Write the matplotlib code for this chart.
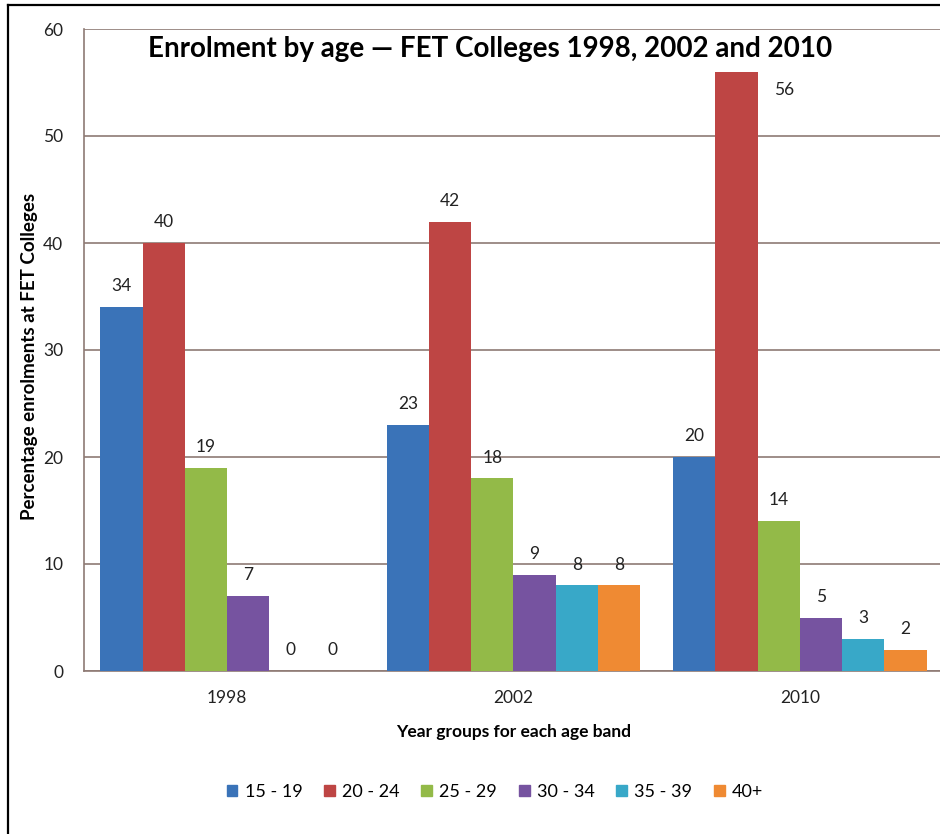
import numpy as np
import matplotlib.pyplot as plt
from matplotlib.lines import Line2D

plt.rcParams['font.family'] = ['Lato', 'DejaVu Sans']

# Enrolment shares (%) by age band, per year group
years = ["1998", "2002", "2010"]
age_bands = ["15 - 19", "20 - 24", "25 - 29", "30 - 34", "35 - 39", "40+"]
share_15_19 = [34, 23, 20]
share_20_24 = [40, 42, 56]
share_25_29 = [19, 18, 14]
share_30_34 = [7, 9, 5]
share_35_39 = [0, 8, 3]
share_40_up = [0, 8, 2]
series = [share_15_19, share_20_24, share_25_29, share_30_34, share_35_39, share_40_up]

colors = ["#3A73B8", "#BE4544", "#93BA48", "#7653A0", "#38A8C8", "#EF8A33"]
grid_col = "#8E7A74"

W, H = 940, 834
fig = plt.figure(figsize=(W / 100, H / 100), dpi=100)
ax = fig.add_axes([84 / W, (H - 671) / H, (943 - 84) / W, (671 - 29) / H])

x = np.arange(len(years))
bw = 0.1476
top = max(max(s) for s in series)
for i, (vals, c) in enumerate(zip(series, colors)):
    pos = x + (i - 2.5) * bw
    ax.bar(pos, vals, width=bw, color=c, label=age_bands[i], zorder=3)
    for p, v in zip(pos, vals):
        if v == top:
            # top value would hit the title, so sit it beside the bar
            ax.annotate(str(v), (p + bw / 2, v), xytext=(19, -13),
                        textcoords="offset points", ha="center", va="center",
                        fontsize=12.5, color="#222222")
        else:
            ax.annotate(str(v), (p, v), xytext=(0, 15),
                        textcoords="offset points", ha="center", va="center",
                        fontsize=12.5, color="#222222")

ax.set_xlim(-0.5, 2.5)
ax.set_ylim(0, 60)
ax.set_yticks(range(0, 61, 10))
ax.set_xticks(x)
ax.set_xticklabels(years)
ax.tick_params(axis="both", length=0, labelsize=12.5, colors="#222222")
ax.tick_params(axis="y", pad=15)
ax.tick_params(axis="x", pad=14)
ax.yaxis.grid(True, color=grid_col, linewidth=1.2, zorder=0)
for s in ["top", "right"]:
    ax.spines[s].set_visible(False)
for s in ["left", "bottom"]:
    ax.spines[s].set_color(grid_col)
    ax.spines[s].set_linewidth(1.2)

ax.set_xlabel("Year groups for each age band", fontsize=12.5, fontweight="bold",
              labelpad=13)
ax.set_ylabel("Percentage enrolments at FET Colleges", fontsize=13.5,
              fontweight="bold")
ax.yaxis.set_label_coords(-46 / (943 - 84), 0.49)

fig.text(490 / W, 1 - 49 / H, "Enrolment by age \u2014 FET Colleges 1998, 2002 and 2010",
         ha="center", va="center", fontsize=20, fontweight="bold")

handles = [plt.Rectangle((0, 0), 1, 1, color=c) for c in colors]
fig.legend(handles, age_bands, loc="center", bbox_to_anchor=(495 / W, 1 - 792 / H),
           ncol=6, frameon=False, fontsize=13, handlelength=0.6, handleheight=0.6,
           handletextpad=0.4, columnspacing=1.2)

# outer frame
fig.add_artist(Line2D([8 / W, 8 / W], [0, 1 - 5 / H], color="black", lw=1.6))
fig.add_artist(Line2D([8 / W, 1], [1 - 5 / H, 1 - 5 / H], color="black", lw=1.6))

fig.savefig("out.png", dpi=100)
